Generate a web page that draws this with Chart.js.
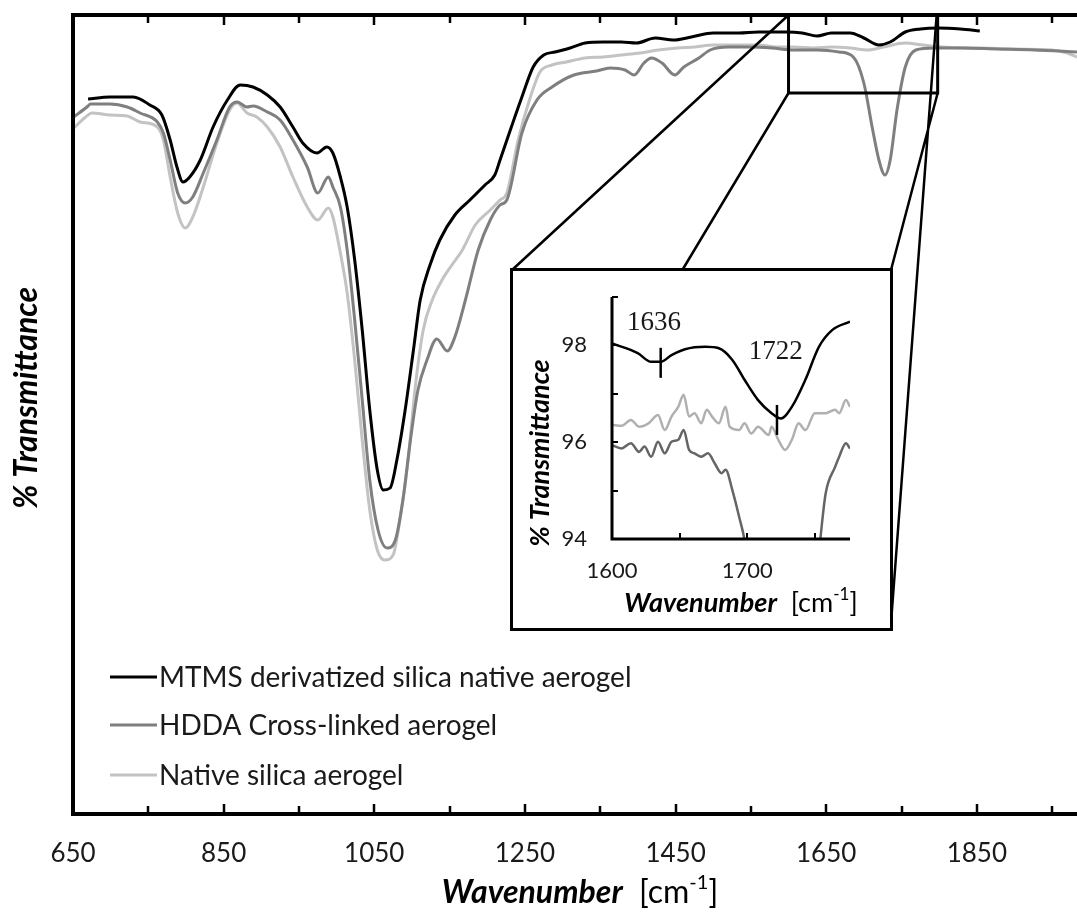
<!DOCTYPE html>
<html>
<head>
<meta charset="utf-8">
<script src="https://cdn.jsdelivr.net/npm/chart.js@4.4.1/dist/chart.umd.min.js"></script>
<style>
  html, body { margin: 0; padding: 0; background: #fff; overflow: hidden; }
  #wrap { position: relative; width: 1077px; height: 915px; }
  #main { position: absolute; left: 0; top: 0; }
  #insetBox { position: absolute; border: 3px solid #000; background: #fff; box-sizing: border-box; }
  #inset { position: absolute; left: 0; top: 0; }
</style>
</head>
<body>
<div id="wrap">
  <canvas id="main" width="1077" height="915"></canvas>
  <div id="insetBox"><canvas id="inset"></canvas></div>
</div>
<script>
const FONT = "Lato, 'Open Sans', sans-serif";

// main chart axis
const xTickValues = [650, 750, 850, 950, 1050, 1150, 1250, 1350, 1450, 1550, 1650, 1750, 1850, 1950];
const xLabelValues = [650, 850, 1050, 1250, 1450, 1650, 1850];

const seriesNames = ["MTMS derivatized silica native aerogel", "HDDA Cross-linked aerogel", "Native silica aerogel"];
const seriesColors = ["#000000", "#7f7f7f", "#c3c3c3"];

// MTMS derivatized silica native aerogel
const mtmsWn = [670, 699, 730, 752, 768, 779, 788, 796, 805, 819, 836, 855, 872, 889, 908, 925, 942, 955, 974, 987, 995, 1005, 1014,
  1024, 1034, 1044, 1054, 1062, 1071, 1080, 1091, 1102, 1111, 1124, 1137, 1157, 1177, 1197, 1210, 1217, 1232, 1246, 1261, 1275, 1290,
  1310, 1330, 1354, 1378, 1398, 1423, 1447, 1471, 1500, 1534, 1560, 1598, 1618, 1638, 1657, 1682, 1700, 1720, 1735, 1755, 1775, 1799,
  1828, 1854];
const mtmsT = [91.6, 91.8, 91.8, 91.0, 90.0, 87.5, 84.8, 83.3, 83.8, 85.5, 88.8, 91.5, 93.0, 92.8, 92.0, 90.8, 88.8, 87.2, 86.2, 86.8, 86.2, 83.8, 80.8,
  75.5, 68.5, 60.5, 54.5, 52.5, 52.7, 55.5, 60.5, 66.5, 71.5, 75.0, 77.5, 80.0, 81.5, 83.0, 84.0, 85.5, 88.8, 91.8, 94.8, 96.0, 96.3,
  96.7, 97.2, 97.3, 97.3, 97.2, 97.7, 97.5, 97.8, 98.2, 98.2, 98.3, 98.3, 98.2, 97.9, 98.2, 98.2, 97.7, 97.0, 97.3, 98.3, 98.6, 98.7,
  98.6, 98.4];

// HDDA Cross-linked aerogel
const hddaWn = [651, 670, 673, 699, 722, 739, 762, 770, 779, 789, 799, 809, 823, 841, 858, 868, 881, 889, 908, 925, 942, 961, 975, 989, 995, 1005, 1014,
  1024, 1034, 1044, 1055, 1067, 1078, 1088, 1098, 1108, 1120, 1133, 1147, 1157, 1171, 1188, 1204, 1217, 1226, 1246, 1266, 1286, 1315,
  1345, 1363, 1383, 1395, 1408, 1418, 1432, 1449, 1461, 1481, 1496, 1520, 1549, 1578, 1607, 1638, 1667, 1686, 1700, 1711, 1720, 1728,
  1735, 1744, 1755, 1769, 1793, 1828, 1877, 1926, 1983];
const hddaT = [89.8, 90.9, 91.1, 91.1, 90.8, 90.2, 89.3, 88.2, 85.5, 82.2, 81.2, 81.8, 84.2, 87.5, 90.8, 91.3, 90.8, 90.9, 90.3, 89.5, 87.5, 84.8, 82.2, 83.8, 82.8, 80.8, 76.5,
  69.5, 61.5, 53.5, 48.5, 46.7, 47.5, 51.5, 57.5, 62.5, 65.5, 67.6, 66.4, 67.8, 71.5, 76.5, 79.5, 81.0, 81.5, 88.2, 91.5, 92.8, 94.0,
  94.4, 94.7, 94.5, 94.0, 95.2, 95.7, 95.2, 94.0, 94.8, 95.7, 96.5, 96.8, 96.8, 96.7, 96.5, 96.5, 96.3, 95.8, 93.2, 88.8, 85.5, 84.0,
  85.5, 90.5, 94.8, 96.5, 96.7, 96.7, 96.6, 96.5, 96.3];

// Native silica aerogel
const nativeWn = [651, 670, 675, 699, 722, 739, 762, 770, 779, 789, 799, 809, 823, 841, 858, 868, 881, 894, 908, 925, 942, 961, 975, 989, 995, 1005, 1014,
  1024, 1034, 1044, 1054, 1064, 1075, 1084, 1095, 1104, 1115, 1127, 1140, 1153, 1167, 1184, 1204, 1217, 1226, 1241, 1256, 1270, 1286,
  1305, 1330, 1354, 1378, 1403, 1427, 1452, 1476, 1500, 1530, 1560, 1584, 1607, 1633, 1657, 1682, 1706, 1726, 1755, 1779, 1804, 1852,
  1901, 1950, 1970, 1983];
const nativeT = [88.7, 90.0, 90.2, 90.0, 89.9, 89.3, 88.8, 87.5, 83.8, 80.2, 78.7, 79.8, 82.8, 87.2, 90.5, 91.2, 90.2, 89.8, 88.8, 86.8, 83.8, 80.8, 79.5, 80.7, 79.8, 76.2, 72.2,
  65.5, 57.5, 50.5, 46.5, 45.5, 46.0, 49.5, 55.5, 62.5, 68.5, 71.5, 73.5, 75.0, 76.5, 79.0, 80.5, 81.5, 82.2, 87.5, 91.5, 94.3, 95.0,
  95.3, 95.7, 95.8, 96.0, 96.2, 96.5, 96.7, 96.8, 97.0, 97.0, 97.0, 96.8, 96.8, 96.7, 96.8, 96.7, 96.5, 96.8, 97.2, 97.0, 96.8, 96.7,
  96.6, 96.5, 96.2, 95.8];

// region enlarged in the inset
const zoomWn = [1600, 1798];
const zoomT = [92.2, 100];

// inset axis
const insetXTicks = [1600, 1650, 1700, 1750];
const insetXLabels = [1600, 1700];
const insetYTicks = [94, 95, 96, 97, 98, 99];
const insetYLabels = [94, 96, 98];

const insetMtmsWn = [1600, 1619, 1629, 1636, 1644, 1654, 1669, 1679, 1689, 1698, 1708, 1718, 1725, 1733, 1743, 1753, 1763, 1776];
const insetMtmsT = [98.04, 97.84, 97.66, 97.66, 97.80, 97.92, 97.97, 97.94, 97.70, 97.29, 96.87, 96.60, 96.49, 96.73, 97.29, 97.97, 98.32, 98.49];

const insetNativeWn = [1600, 1607, 1614, 1620, 1627, 1634, 1639, 1644, 1649, 1653, 1657, 1661, 1666, 1670, 1674, 1679, 1684, 1687, 1694, 1698,
  1703, 1708, 1716, 1718, 1723, 1728, 1733, 1738, 1743, 1750, 1758, 1765, 1768, 1773, 1776];
const insetNativeT = [96.36, 96.34, 96.46, 96.32, 96.39, 96.56, 96.25, 96.53, 96.73, 96.98, 96.53, 96.60, 96.39, 96.67, 96.53, 96.39, 96.73, 96.32, 96.25, 96.39,
  96.18, 96.32, 96.15, 96.32, 96.05, 95.84, 96.05, 96.39, 96.25, 96.60, 96.60, 96.67, 96.60, 96.87, 96.73];

const insetHddaWn = [1600, 1607, 1614, 1620, 1624, 1629, 1634, 1639, 1644, 1649, 1653, 1657, 1661, 1666, 1671, 1676, 1681, 1684, 1689, 1694,
  1698, 1705, 1715, 1728, 1740, 1750, 1754, 1758, 1765, 1768, 1773, 1776];
const insetHddaT = [95.94, 95.87, 95.98, 95.80, 95.91, 95.70, 96.01, 95.77, 96.01, 96.05, 96.25, 95.84, 95.77, 95.70, 95.77, 95.56, 95.36, 95.43, 95.01, 94.46,
  93.98, 92.5, 90.5, 89.5, 90.5, 92.8, 93.98, 94.94, 95.49, 95.70, 95.98, 95.87];

// peak markers in the inset
const peakWn = [1636, 1722];
const peakTop = [97.95, 96.77];
const peakBottom = [97.33, 96.15];
const peakLabels = ["1636", "1722"];
const peakLabelWn = [1631, 1721];
const peakLabelT = [98.46, 97.86];

// inset box placement
const insetBox = { left: 510, top: 268, width: 383, height: 363, border: 3 };

function toPoints(xs, ys) {
  return xs.map((x, i) => ({ x: x, y: ys[i] }));
}

function lineDataset(label, xs, ys, color, width) {
  return {
    label: label,
    data: toPoints(xs, ys),
    borderColor: color,
    borderWidth: width,
    pointRadius: 0,
    fill: false,
    cubicInterpolationMode: "monotone",
  };
}

function noPadding(scale) {
  scale.paddingTop = 0;
  scale.paddingBottom = 0;
}

function drawWavenumberTitle(ctx, cx, cy, size) {
  const parts = [
    { text: "Wavenumber", font: `italic bold ${size}px ${FONT}`, dy: 0 },
    { text: "  [cm", font: `${size}px ${FONT}`, dy: 0 },
    { text: "-1", font: `${Math.round(size * 0.62)}px ${FONT}`, dy: -size * 0.33 },
    { text: "]", font: `${size}px ${FONT}`, dy: 0 },
  ];
  let total = 0;
  parts.forEach((p) => {
    ctx.font = p.font;
    p.w = ctx.measureText(p.text).width;
    total += p.w;
  });
  let x = cx - total / 2;
  ctx.textAlign = "left";
  ctx.textBaseline = "middle";
  ctx.fillStyle = "#000";
  parts.forEach((p) => {
    ctx.font = p.font;
    ctx.fillText(p.text, x, cy + p.dy);
    x += p.w;
  });
}

function drawVerticalTitle(ctx, text, cx, cy, size) {
  ctx.save();
  ctx.translate(cx, cy);
  ctx.rotate(-Math.PI / 2);
  ctx.font = `italic bold ${size}px ${FONT}`;
  ctx.fillStyle = "#000";
  ctx.textAlign = "center";
  ctx.textBaseline = "middle";
  ctx.fillText(text, 0, 0);
  ctx.restore();
}

const mainDecor = {
  id: "mainDecor",
  afterDatasetsDraw(chart) {
    const { ctx, chartArea: area, scales: { x, y } } = chart;
    ctx.save();
    ctx.strokeStyle = "#000";
    ctx.lineCap = "butt";

    // axis frame
    ctx.lineWidth = 4;
    ctx.beginPath();
    ctx.moveTo(area.right + 2, area.top);
    ctx.lineTo(area.left, area.top);
    ctx.lineTo(area.left, area.bottom);
    ctx.lineTo(area.right + 2, area.bottom);
    ctx.stroke();

    // inward ticks
    ctx.lineWidth = 2.5;
    xTickValues.forEach((v) => {
      const px = Math.round(x.getPixelForValue(v));
      const len = xLabelValues.includes(v) ? 10 : 8;
      ctx.beginPath();
      ctx.moveTo(px, area.bottom);
      ctx.lineTo(px, area.bottom - len);
      ctx.moveTo(px, area.top);
      ctx.lineTo(px, area.top + len);
      ctx.stroke();
    });

    // zoom rectangle and lines to the inset
    const zx1 = x.getPixelForValue(zoomWn[0]);
    const zx2 = x.getPixelForValue(zoomWn[1]);
    const zy1 = y.getPixelForValue(zoomT[1]);
    const zy2 = y.getPixelForValue(zoomT[0]);
    ctx.lineWidth = 3;
    ctx.strokeRect(zx1, zy1, zx2 - zx1, zy2 - zy1);

    const bl = insetBox.left, bt = insetBox.top;
    const br = insetBox.left + insetBox.width, bb = insetBox.top + insetBox.height;
    ctx.lineWidth = 2.5;
    ctx.beginPath();
    ctx.moveTo(zx1, zy1);
    ctx.lineTo(bl + 2, bt + 2);
    ctx.moveTo(zx1, zy2);
    ctx.lineTo(bl + insetBox.width * 0.45, bt + 2);
    ctx.moveTo(zx2, zy2);
    ctx.lineTo(br - 2, bt + 2);
    ctx.moveTo(zx2 - 1, zy1);
    ctx.lineTo(br - 2, bb - 8);
    ctx.stroke();

    // legend
    const rows = [677, 725, 775];
    chart.data.datasets.forEach((ds, i) => {
      ctx.strokeStyle = ds.borderColor;
      ctx.lineWidth = 3;
      ctx.beginPath();
      ctx.moveTo(110, rows[i]);
      ctx.lineTo(157, rows[i]);
      ctx.stroke();
      ctx.font = `28px ${FONT}`;
      ctx.fillStyle = "#1a1a1a";
      ctx.textAlign = "left";
      ctx.textBaseline = "middle";
      ctx.fillText(ds.label, 159, rows[i] + 1);
    });

    // axis titles
    drawWavenumberTitle(ctx, 580, 893, 32);
    drawVerticalTitle(ctx, "% Transmittance", 27, 398, 32);
    ctx.restore();
  },
};

const mainChart = new Chart(document.getElementById("main"), {
  type: "line",
  data: {
    datasets: [
      lineDataset(seriesNames[0], mtmsWn, mtmsT, seriesColors[0], 3),
      lineDataset(seriesNames[1], hddaWn, hddaT, seriesColors[1], 3),
      lineDataset(seriesNames[2], nativeWn, nativeT, seriesColors[2], 3),
    ],
  },
  options: {
    responsive: false,
    animation: false,
    layout: { padding: { top: 15, right: 0, bottom: 0, left: 0 } },
    plugins: { legend: { display: false }, tooltip: { enabled: false } },
    scales: {
      x: {
        type: "linear",
        min: 650,
        max: 1983,
        grid: { display: false, drawTicks: false },
        border: { display: false },
        afterBuildTicks: (scale) => {
          scale.ticks = xLabelValues.map((v) => ({ value: v }));
        },
        afterFit: (scale) => {
          scale.height = 101;
        },
        ticks: {
          autoSkip: false,
          maxRotation: 0,
          padding: 24,
          color: "#1a1a1a",
          font: { family: FONT, size: 26 },
          callback: (v) => String(v),
        },
      },
      y: {
        type: "linear",
        min: 20.1,
        max: 100,
        grid: { display: false, drawTicks: false },
        border: { display: false },
        ticks: { display: false },
        afterFit: (scale) => {
          scale.width = 73;
          noPadding(scale);
        },
      },
    },
  },
  plugins: [mainDecor],
});

// inset
const boxEl = document.getElementById("insetBox");
boxEl.style.left = insetBox.left + "px";
boxEl.style.top = insetBox.top + "px";
boxEl.style.width = insetBox.width + "px";
boxEl.style.height = insetBox.height + "px";
const insetCanvas = document.getElementById("inset");
insetCanvas.width = insetBox.width - 2 * insetBox.border;
insetCanvas.height = insetBox.height - 2 * insetBox.border;

const insetDecor = {
  id: "insetDecor",
  afterDatasetsDraw(chart) {
    const { ctx, chartArea: area, scales: { x, y } } = chart;
    ctx.save();
    ctx.strokeStyle = "#000";
    ctx.lineWidth = 3;
    ctx.beginPath();
    ctx.moveTo(area.left, area.top);
    ctx.lineTo(area.left, area.bottom);
    ctx.lineTo(area.right, area.bottom);
    ctx.stroke();

    ctx.lineWidth = 2;
    insetXTicks.forEach((v) => {
      const px = Math.round(x.getPixelForValue(v));
      ctx.beginPath();
      ctx.moveTo(px, area.bottom);
      ctx.lineTo(px, area.bottom - 6);
      ctx.stroke();
    });
    insetYTicks.forEach((v) => {
      const py = Math.round(y.getPixelForValue(v));
      ctx.beginPath();
      ctx.moveTo(area.left, py);
      ctx.lineTo(area.left + 6, py);
      ctx.stroke();
    });

    // peak markers
    ctx.lineWidth = 2.5;
    peakWn.forEach((v, i) => {
      const px = x.getPixelForValue(v);
      ctx.beginPath();
      ctx.moveTo(px, y.getPixelForValue(peakTop[i]));
      ctx.lineTo(px, y.getPixelForValue(peakBottom[i]));
      ctx.stroke();
      ctx.font = `27px 'Liberation Serif', 'DejaVu Serif', serif`;
      ctx.fillStyle = "#1a1a1a";
      ctx.textAlign = "center";
      ctx.textBaseline = "middle";
      ctx.fillText(peakLabels[i], x.getPixelForValue(peakLabelWn[i]), y.getPixelForValue(peakLabelT[i]));
    });

    drawWavenumberTitle(ctx, (area.left + area.right) / 2 + 10, 332, 27);
    drawVerticalTitle(ctx, "% Transmittance", 27, 182, 27);
    ctx.restore();
  },
};

const insetChart = new Chart(insetCanvas, {
  type: "line",
  data: {
    datasets: [
      lineDataset(seriesNames[0], insetMtmsWn, insetMtmsT, "#000000", 2.5),
      lineDataset(seriesNames[2], insetNativeWn, insetNativeT, "#b0b0b0", 2.5),
      lineDataset(seriesNames[1], insetHddaWn, insetHddaT, "#656565", 2.5),
    ],
  },
  options: {
    responsive: false,
    animation: false,
    layout: { padding: { top: 26, right: 40, bottom: 0, left: 0 } },
    plugins: { legend: { display: false }, tooltip: { enabled: false } },
    scales: {
      x: {
        type: "linear",
        min: 1600,
        max: 1776,
        grid: { display: false, drawTicks: false },
        border: { display: false },
        afterBuildTicks: (scale) => {
          scale.ticks = insetXLabels.map((v) => ({ value: v }));
        },
        afterFit: (scale) => {
          scale.height = 89;
        },
        ticks: {
          autoSkip: false,
          maxRotation: 0,
          padding: 19,
          color: "#1a1a1a",
          font: { family: FONT, size: 22 },
          callback: (v) => String(v),
        },
      },
      y: {
        type: "linear",
        min: 94,
        max: 99,
        grid: { display: false, drawTicks: false },
        border: { display: false },
        afterBuildTicks: (scale) => {
          scale.ticks = insetYLabels.map((v) => ({ value: v }));
        },
        afterFit: (scale) => {
          scale.width = 99;
          noPadding(scale);
        },
        ticks: {
          padding: 25,
          color: "#1a1a1a",
          font: { family: FONT, size: 22 },
          callback: (v) => String(v),
        },
      },
    },
  },
  plugins: [insetDecor],
});
</script>
</body>
</html>
